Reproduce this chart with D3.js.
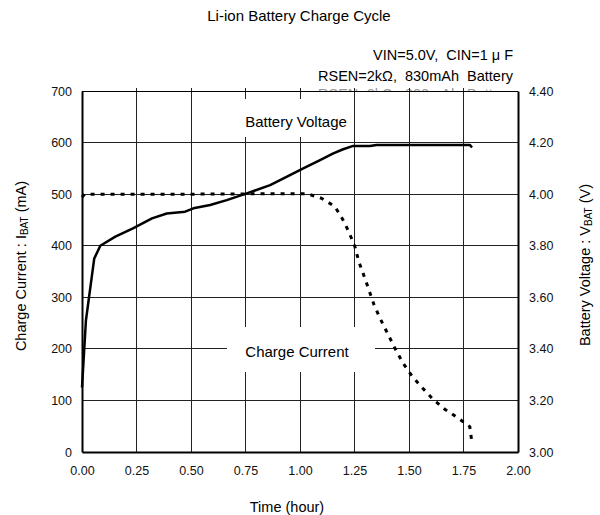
<!DOCTYPE html>
<html>
<head>
<meta charset="utf-8">
<script src="https://cdn.jsdelivr.net/npm/d3@7"></script>
<style>
  html, body { margin: 0; padding: 0; background: #fff; }
  svg { display: block; font-family: "Liberation Sans", Arial, sans-serif; }
  text { white-space: pre; }
</style>
</head>
<body>
<svg id="chart" width="600" height="515"></svg>
<script>
// ---- data ----
const voltTime  = [0, 0.018, 0.056, 0.084, 0.153, 0.236, 0.321, 0.389, 0.473, 0.511, 0.588, 0.664, 0.756, 0.863, 0.954, 1.015, 1.092, 1.153, 1.198, 1.244, 1.321, 1.351, 1.779, 1.789];
const voltValue = [3.25, 3.51, 3.75, 3.80, 3.835, 3.868, 3.906, 3.925, 3.932, 3.945, 3.958, 3.977, 4.003, 4.035, 4.074, 4.100, 4.132, 4.158, 4.174, 4.187, 4.187, 4.191, 4.191, 4.181];

const currTime  = [0, 0.012, 0.5, 1.0, 1.031, 1.099, 1.160, 1.196, 1.224, 1.252, 1.270, 1.295, 1.318, 1.340, 1.371, 1.405, 1.437, 1.473, 1.514, 1.562, 1.611, 1.664, 1.725, 1.779, 1.788];
const currValue = [494, 500, 500, 501, 501, 492, 476, 451, 427, 398, 369, 340, 312, 285, 256, 227, 200, 172, 147, 124, 102, 83, 66, 49, 20];

const timeTicks    = [0, 0.25, 0.5, 0.75, 1.0, 1.25, 1.5, 1.75, 2.0];
const currentTicks = [0, 100, 200, 300, 400, 500, 600, 700];
const voltageTicks = [3.0, 3.2, 3.4, 3.6, 3.8, 4.0, 4.2, 4.4];

const titleText = "Li-ion Battery Charge Cycle";
const noteLines = ["VIN=5.0V,  CIN=1 μ F", "RSEN=2kΩ,  830mAh  Battery"];

// ---- layout ----
const L = 82, R = 518, T = 91, B = 452;
const svg = d3.select("#chart");

const x  = d3.scaleLinear().domain([0, 2]).range([L, R]);
const yI = d3.scaleLinear().domain([0, 700]).range([B, T]);
const yV = d3.scaleLinear().domain([3.0, 4.4]).range([B, T]);

// title + notes
svg.append("text").attr("x", 299).attr("y", 21).attr("text-anchor", "middle")
  .attr("font-size", 15).attr("fill", "#000").text(titleText);
svg.append("text").attr("x", 513).attr("y", 60).attr("text-anchor", "end")
  .attr("font-size", 14.5).attr("fill", "#000").text(noteLines[0]);
svg.append("text").attr("x", 513).attr("y", 81).attr("text-anchor", "end")
  .attr("font-size", 14.5).attr("fill", "#000").text(noteLines[1]);
// ghost duplicate clipped by plot area
svg.append("text").attr("x", 513).attr("y", 99).attr("text-anchor", "end")
  .attr("font-size", 14.5).attr("fill", "#999").text(noteLines[1]);

// plot background
svg.append("rect").attr("x", L).attr("y", T).attr("width", R - L).attr("height", B - T).attr("fill", "#fff");

// grid
const grid = svg.append("g").attr("stroke", "#222").attr("stroke-width", 1).attr("shape-rendering", "crispEdges");
grid.selectAll("line.h").data(currentTicks.slice(1, -1)).enter().append("line")
  .attr("x1", L).attr("x2", R).attr("y1", d => yI(d)).attr("y2", d => yI(d));
grid.selectAll("line.v").data(timeTicks.slice(1, -1)).enter().append("line")
  .attr("x1", d => x(d)).attr("x2", d => x(d)).attr("y1", T - 3).attr("y2", B);
// top border
svg.append("line").attr("x1", L).attr("x2", R).attr("y1", T).attr("y2", T)
  .attr("stroke", "#000").attr("stroke-width", 1).attr("shape-rendering", "crispEdges");

// label boxes
function label(txt, cx, cy, bx0, by0, bx1, by1) {
  svg.append("rect").attr("x", bx0).attr("y", by0).attr("width", bx1 - bx0).attr("height", by1 - by0).attr("fill", "#fff");
  svg.append("text").attr("x", cx).attr("y", cy).attr("text-anchor", "middle").attr("dominant-baseline", "central")
    .attr("font-size", 15).attr("fill", "#000").text(txt);
}
label("Battery Voltage", 296, 121, 232, 99, 352, 137);
label("Charge Current", 297, 351, 227, 327, 375, 372);

// axes
const axisLeft = d3.axisLeft(yI).tickValues(currentTicks).tickSize(0).tickPadding(10).tickFormat(d3.format("d"));
const axisRight = d3.axisRight(yV).tickValues(voltageTicks).tickSize(0).tickPadding(11).tickFormat(d3.format(".2f"));
const axisBottom = d3.axisBottom(x).tickValues(timeTicks).tickSize(0).tickPadding(14).tickFormat(d3.format(".2f"));

function styleAxis(g) {
  g.select(".domain").attr("stroke", "#000").attr("stroke-width", 2);
  g.selectAll("text").attr("font-size", 12.5).attr("fill", "#111").attr("font-family", "Liberation Sans, Arial, sans-serif");
}
svg.append("g").attr("transform", `translate(${L},0)`).call(axisLeft).call(styleAxis);
svg.append("g").attr("transform", `translate(${R},0)`).call(axisRight).call(styleAxis);
svg.append("g").attr("transform", `translate(0,${B})`).call(axisBottom).call(styleAxis);

// series
const currData = currTime.map((t, i) => [t, currValue[i]]);
const voltData = voltTime.map((t, i) => [t, voltValue[i]]);

svg.append("path").datum(currData)
  .attr("d", d3.line().x(d => x(d[0])).y(d => yI(d[1])))
  .attr("fill", "none").attr("stroke", "#000").attr("stroke-width", 3)
  .attr("stroke-dasharray", "4,6");

svg.append("path").datum(voltData)
  .attr("d", d3.line().x(d => x(d[0])).y(d => yV(d[1])))
  .attr("fill", "none").attr("stroke", "#000").attr("stroke-width", 2.5)
  .attr("stroke-linejoin", "round");

// axis titles
function axisTitle(cx, cy, main, sub, tail) {
  const t = svg.append("text").attr("transform", `translate(${cx},${cy}) rotate(-90)`)
    .attr("text-anchor", "middle").attr("dominant-baseline", "central")
    .attr("font-size", 14.5).attr("fill", "#000");
  t.append("tspan").text(main);
  t.append("tspan").attr("font-size", 10).attr("dy", 3).text(sub);
  t.append("tspan").attr("dy", -3).text(tail);
}
axisTitle(21, 266, "Charge Current : I", "BAT", " (mA)");
axisTitle(585, 265, "Battery Voltage : V", "BAT", " (V)");

svg.append("text").attr("x", 287).attr("y", 512).attr("text-anchor", "middle")
  .attr("font-size", 14.5).attr("fill", "#000").text("Time (hour)");
</script>
</body>
</html>
